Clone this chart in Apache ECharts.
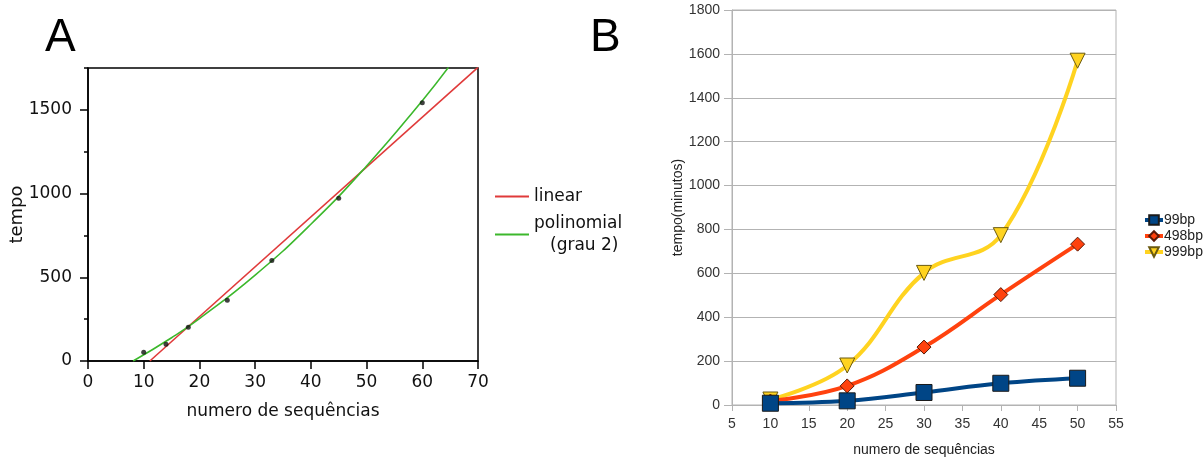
<!DOCTYPE html>
<html>
<head>
<meta charset="utf-8">
<script src="https://cdn.jsdelivr.net/npm/echarts@6/dist/echarts.min.js"></script>
<style>
  html, body { margin: 0; padding: 0; background: #fff; }
  #chart { width: 1204px; height: 457px; }
</style>
</head>
<body>
<div id="chart"></div>
<script>
var pontosA = [[10, 52], [14, 100], [18, 202], [25, 363], [33, 600], [45, 972], [60, 1543]];
var linearA = [[11.1, 0], [70, 1754]];
var polinomialA = [[8.1, 0], [15, 139], [20, 253], [30, 513], [40, 817], [50, 1165], [60, 1555], [64.7, 1754]];

// panel B: running time in minutes
var nSeq = [10, 20, 30, 40, 50];
var bp99 = [8, 19, 57, 99, 122];
var bp498 = [18, 87, 264, 503, 733];
var bp999 = [25, 180, 602, 774, 1569];

var pairs = function (xs, ys) {
    return xs.map(function (x, i) { return [x, ys[i]]; });
};
var plain = function (v) { return String(v); };

var chart = echarts.init(document.getElementById('chart'), null, { renderer: 'canvas' });

var fontA = 'DejaVu Sans';
var fontB = 'Liberation Sans';

var option = {
    backgroundColor: '#ffffff',
    animation: false,
    title: [
        { text: 'A', left: 40, top: 10, textStyle: { fontFamily: fontB, fontSize: 46, fontWeight: 'normal', color: '#000' } },
        { text: 'B', left: 585, top: 10, textStyle: { fontFamily: fontB, fontSize: 46, fontWeight: 'normal', color: '#000' } }
    ],
    legend: [
        {
            left: 490, top: 183, orient: 'vertical', itemGap: 10,
            itemWidth: 34, itemHeight: 14, icon: 'path://M0,6 L34,6 L34,8 L0,8 Z',
            data: ['linear', 'polinomial'],
            formatter: function (name) {
                return name === 'polinomial' ? '{a|polinomial}\n{b|(grau 2)}' : '{a|linear}';
            },
            textStyle: {
                fontFamily: fontA, fontSize: 17, color: '#111',
                rich: {
                    a: { fontFamily: fontA, fontSize: 17, color: '#111', lineHeight: 22 },
                    b: { fontFamily: fontA, fontSize: 17, color: '#111', lineHeight: 22, padding: [0, 0, 0, 16] }
                }
            }
        },
        {
            left: 1138, top: 208, orient: 'vertical', itemGap: 2,
            itemWidth: 18, itemHeight: 12,
            data: ['99bp', '498bp', '999bp'],
            lineStyle: { width: 4 },
            textStyle: { fontFamily: fontB, fontSize: 14, color: '#222', padding: [0, 0, 0, -4] }
        }
    ],
    grid: [
        { left: 88, top: 68, width: 390, height: 293, show: true, borderColor: '#000', borderWidth: 1.5, backgroundColor: 'transparent', outerBoundsMode: 'none', containLabel: false },
        { left: 732, top: 10, width: 384, height: 395, show: true, borderColor: '#b3b3b3', borderWidth: 1, backgroundColor: 'transparent', outerBoundsMode: 'none', containLabel: false }
    ],
    xAxis: [
        {
            gridIndex: 0, type: 'value', min: 0, max: 70, interval: 10,
            name: 'numero de sequências', nameLocation: 'middle', nameGap: 42,
            nameTextStyle: { fontFamily: fontA, fontSize: 17, color: '#111' },
            axisLine: { lineStyle: { color: '#000', width: 1.5 } },
            axisTick: { length: 8, lineStyle: { color: '#000', width: 1.5 } },
            axisLabel: { fontFamily: fontA, fontSize: 17, color: '#111', margin: 13, formatter: plain },
            splitLine: { show: false }
        },
        {
            gridIndex: 1, type: 'value', min: 5, max: 55, interval: 5,
            name: 'numero de sequências', nameLocation: 'middle', nameGap: 38,
            nameTextStyle: { fontFamily: fontB, fontSize: 14, color: '#222' },
            axisLine: { lineStyle: { color: '#b3b3b3', width: 1 } },
            axisTick: { length: 6, lineStyle: { color: '#b3b3b3' } },
            axisLabel: { fontFamily: fontB, fontSize: 14, color: '#333', margin: 12, formatter: plain },
            splitLine: { show: false }
        }
    ],
    yAxis: [
        {
            gridIndex: 0, type: 'value', position: 'left', min: 0, max: 1750, interval: 250,
            name: 'tempo', nameLocation: 'middle', nameGap: 62,
            nameTextStyle: { fontFamily: fontA, fontSize: 18, color: '#111' },
            axisLine: { lineStyle: { color: '#000', width: 1.5 } },
            axisTick: { length: 4, lineStyle: { color: '#000', width: 1.5 } },
            axisLabel: { show: false },
            splitLine: { show: false }
        },
        {
            gridIndex: 0, type: 'value', position: 'left', offset: 0, min: 0, max: 1750, interval: 500,
            axisLine: { show: false },
            axisTick: { length: 8, lineStyle: { color: '#000', width: 1.5 } },
            axisLabel: {
                fontFamily: fontA, fontSize: 17, color: '#111', margin: 16, showMaxLabel: false,
                formatter: function (v) { return v % 500 === 0 ? String(v) : ''; }
            },
            splitLine: { show: false }
        },
        {
            gridIndex: 1, type: 'value', min: 0, max: 1800, interval: 200,
            name: 'tempo(minutos)', nameLocation: 'middle', nameGap: 42,
            nameTextStyle: { fontFamily: fontB, fontSize: 14, color: '#222' },
            axisLine: { show: true, lineStyle: { color: '#b3b3b3', width: 1 } },
            axisTick: { show: true, length: 8, lineStyle: { color: '#b3b3b3' } },
            axisLabel: { fontFamily: fontB, fontSize: 14, color: '#333', margin: 12, formatter: plain },
            splitLine: { show: true, lineStyle: { color: '#b3b3b3', width: 1 } }
        }
    ],
    series: [
        {
            name: 'linear', type: 'line', xAxisIndex: 0, yAxisIndex: 0,
            data: linearA, showSymbol: false, color: '#e03a3a',
            lineStyle: { width: 1.6, color: '#e03a3a' }
        },
        {
            name: 'polinomial', type: 'line', xAxisIndex: 0, yAxisIndex: 0,
            data: polinomialA, smooth: 0.5, showSymbol: false, color: '#3cb82c',
            lineStyle: { width: 1.6, color: '#3cb82c' }
        },
        {
            name: 'pontos', type: 'scatter', xAxisIndex: 0, yAxisIndex: 0,
            data: pontosA, symbolSize: 5, itemStyle: { color: '#111' }, z: 5
        },
        {
            name: '99bp', type: 'line', xAxisIndex: 1, yAxisIndex: 2,
            data: pairs(nSeq, bp99), smooth: 0.4, color: '#004586',
            lineStyle: { width: 4, color: '#004586' },
            symbol: 'rect', symbolSize: 16,
            itemStyle: { color: '#004586', borderColor: '#1a1a1a', borderWidth: 1 }, z: 4
        },
        {
            name: '498bp', type: 'line', xAxisIndex: 1, yAxisIndex: 2,
            data: pairs(nSeq, bp498), smooth: 0.4, color: '#ff420e',
            lineStyle: { width: 4, color: '#ff420e' },
            symbol: 'diamond', symbolSize: 14,
            itemStyle: { color: '#ff420e', borderColor: '#5a1a08', borderWidth: 1 }, z: 3
        },
        {
            name: '999bp', type: 'line', xAxisIndex: 1, yAxisIndex: 2,
            data: pairs(nSeq, bp999), smooth: 0.4, color: '#ffd320',
            lineStyle: { width: 4, color: '#ffd320' },
            symbol: 'triangle', symbolRotate: 180, symbolSize: 15,
            itemStyle: { color: '#ffd320', borderColor: '#6b5a10', borderWidth: 1 }, z: 2
        }
    ]
};

chart.setOption(option);
</script>
</body>
</html>
